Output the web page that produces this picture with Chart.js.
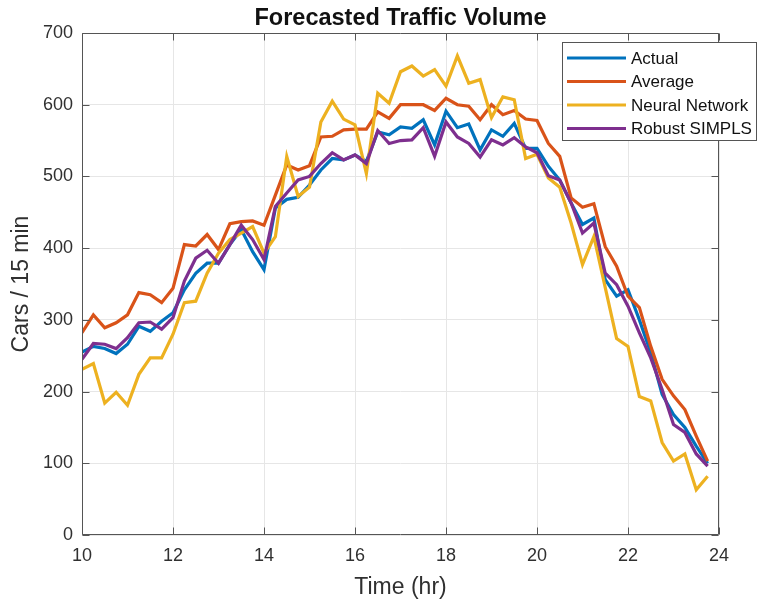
<!DOCTYPE html>
<html>
<head>
<meta charset="utf-8">
<script src="https://cdn.jsdelivr.net/npm/chart.js@4.4.0/dist/chart.umd.min.js"></script>
<style>
  html, body { margin: 0; padding: 0; background: #ffffff; }
  #wrap { width: 759px; height: 604px; }
</style>
</head>
<body>
<div id="wrap"><canvas id="traffic" width="759" height="604"></canvas></div>
<script>
// Sample times (hours), one every 15 minutes
const hours = [
  10.00, 10.25, 10.50, 10.75, 11.00, 11.25, 11.50, 11.75,
  12.00, 12.25, 12.50, 12.75, 13.00, 13.25, 13.50, 13.75,
  14.00, 14.25, 14.50, 14.75, 15.00, 15.25, 15.50, 15.75,
  16.00, 16.25, 16.50, 16.75, 17.00, 17.25, 17.50, 17.75,
  18.00, 18.25, 18.50, 18.75, 19.00, 19.25, 19.50, 19.75,
  20.00, 20.25, 20.50, 20.75, 21.00, 21.25, 21.50, 21.75,
  22.00, 22.25, 22.50, 22.75, 23.00, 23.25, 23.50, 23.75
];

// Cars per 15 minutes
const actual = [
  255, 263, 260, 253, 266, 291, 284, 298,
  310, 342, 365, 379, 379, 405, 426, 395,
  370, 456, 468, 471, 488, 509, 525, 523,
  530, 521, 562, 558, 569, 567, 579, 544,
  591, 568, 573, 537, 565, 556, 574, 539,
  539, 514, 495, 463, 433, 442, 356, 333,
  342, 300, 254, 196, 168, 150, 124, 100
];
const average = [
  282, 307, 289, 296, 307, 338, 335, 324,
  344, 405, 403, 419, 398, 434, 437, 438,
  432, 474, 516, 509, 515, 555, 556, 565,
  566, 566, 590, 581, 600, 600, 600, 592,
  609, 600, 598, 579, 600, 586, 592, 580,
  578, 546, 528, 470, 457, 462, 402, 375,
  333, 317, 263, 217, 194, 175, 138, 103
];
const neuralNet = [
  231, 239, 184, 199, 181, 224, 247, 247,
  280, 324, 326, 365, 393, 412, 421, 430,
  393, 416, 528, 472, 485, 576, 605, 580,
  572, 504, 616, 602, 646, 654, 640, 649,
  626, 668, 630, 635, 582, 611, 607, 525,
  531, 498, 485, 435, 377, 416, 345, 274,
  263, 193, 187, 129, 103, 113, 63, 82
];
const robustSimpls = [
  245, 267, 266, 260, 275, 296, 297, 287,
  303, 354, 386, 397, 379, 405, 432, 412,
  384, 458, 477, 495, 500, 518, 533, 523,
  530, 518, 564, 546, 550, 551, 568, 528,
  576, 555, 546, 527, 551, 544, 554, 541,
  533, 501, 495, 463, 421, 435, 365, 349,
  319, 282, 247, 203, 154, 143, 113, 96
];

const seriesNames = ['Actual', 'Average', 'Neural Network', 'Robust SIMPLS'];
const seriesValues = [actual, average, neuralNet, robustSimpls];
const seriesColors = ['#0072BD', '#D95319', '#EDB120', '#7E2F8E'];
// later series are painted over earlier ones
const seriesOrder = [3, 2, 1, 0];

const xTicks = [10, 12, 14, 16, 18, 20, 22, 24];
const yTicks = [0, 100, 200, 300, 400, 500, 600, 700];

const FONT = "'Liberation Sans', Arial, Helvetica, sans-serif";
const INK = '#303030';
const FRAME = '#555555';

const datasets = seriesValues.map((vals, k) => ({
  label: seriesNames[k],
  data: vals.map((v, i) => ({ x: hours[i], y: v })),
  borderColor: seriesColors[k],
  backgroundColor: seriesColors[k],
  borderWidth: 3.2,
  pointRadius: 0,
  tension: 0,
  fill: false,
  order: seriesOrder[k]
}));

// Axes box, inward tick marks, title and legend
const framePlugin = {
  id: 'frame',
  afterDraw(chart) {
    const ctx = chart.ctx;
    const a = chart.chartArea;
    const xs = chart.scales.x, ys = chart.scales.y;
    const L = Math.round(a.left) + 0.5, R = Math.round(a.right) - 0.5;
    const T = Math.round(a.top) + 0.5, B = Math.round(a.bottom) - 0.5;
    const tl = 7;

    ctx.save();
    ctx.strokeStyle = FRAME;
    ctx.lineWidth = 1;
    ctx.beginPath();
    ctx.rect(L, T, R - L, B - T);
    for (const v of xTicks) {
      const px = Math.round(xs.getPixelForValue(v)) + 0.5;
      ctx.moveTo(px, B); ctx.lineTo(px, B - tl);
      ctx.moveTo(px, T); ctx.lineTo(px, T + tl);
    }
    for (const v of yTicks) {
      const py = Math.round(ys.getPixelForValue(v)) + 0.5;
      ctx.moveTo(L, py); ctx.lineTo(L + tl, py);
      ctx.moveTo(R, py); ctx.lineTo(R - tl, py);
    }
    ctx.stroke();

    // title
    ctx.fillStyle = '#111111';
    ctx.font = 'bold 23.5px ' + FONT;
    ctx.textAlign = 'center';
    ctx.textBaseline = 'alphabetic';
    ctx.fillText('Forecasted Traffic Volume', (a.left + a.right) / 2, 25);

    // legend
    const bx = 562.5, by = 42.5, bw = 194, bh = 98;
    ctx.fillStyle = '#ffffff';
    ctx.fillRect(bx, by, bw, bh);
    ctx.strokeStyle = FRAME;
    ctx.strokeRect(bx, by, bw, bh);
    ctx.font = '17px ' + FONT;
    ctx.textAlign = 'left';
    ctx.textBaseline = 'middle';
    seriesNames.forEach((name, k) => {
      const cy = 58 + k * 23.5;
      ctx.strokeStyle = seriesColors[k];
      ctx.lineWidth = 3.2;
      ctx.beginPath();
      ctx.moveTo(567, cy); ctx.lineTo(626, cy);
      ctx.stroke();
      ctx.fillStyle = '#111111';
      ctx.fillText(name, 631, cy + 1);
    });
    ctx.restore();
  }
};

new Chart(document.getElementById('traffic'), {
  type: 'line',
  data: { datasets },
  plugins: [framePlugin],
  options: {
    responsive: false,
    animation: false,
    devicePixelRatio: 1,
    layout: { padding: { left: 0, top: 33, right: 40, bottom: 0 } },
    plugins: {
      legend: { display: false },
      title: { display: false },
      tooltip: { enabled: false }
    },
    scales: {
      x: {
        type: 'linear',
        min: 10,
        max: 24,
        afterBuildTicks(s) { s.ticks = xTicks.map(v => ({ value: v })); },
        afterFit(s) { s.height = 604 - 535; },
        ticks: {
          font: { family: FONT, size: 18 },
          color: INK,
          padding: 10,
          maxRotation: 0
        },
        grid: { color: '#e6e6e6', drawTicks: false },
        border: { display: false },
        title: {
          display: true,
          text: 'Time (hr)',
          font: { family: FONT, size: 23 },
          color: INK,
          padding: { top: 0, bottom: 3 }
        }
      },
      y: {
        min: 0,
        max: 700,
        afterBuildTicks(s) { s.ticks = yTicks.map(v => ({ value: v })); },
        afterFit(s) { s.width = 82; },
        ticks: {
          font: { family: FONT, size: 18 },
          color: INK,
          padding: 9
        },
        grid: { color: '#e6e6e6', drawTicks: false },
        border: { display: false },
        title: {
          display: true,
          text: 'Cars / 15 min',
          font: { family: FONT, size: 23 },
          color: INK,
          padding: { top: 8, bottom: 0 }
        }
      }
    }
  }
});
</script>
</body>
</html>
